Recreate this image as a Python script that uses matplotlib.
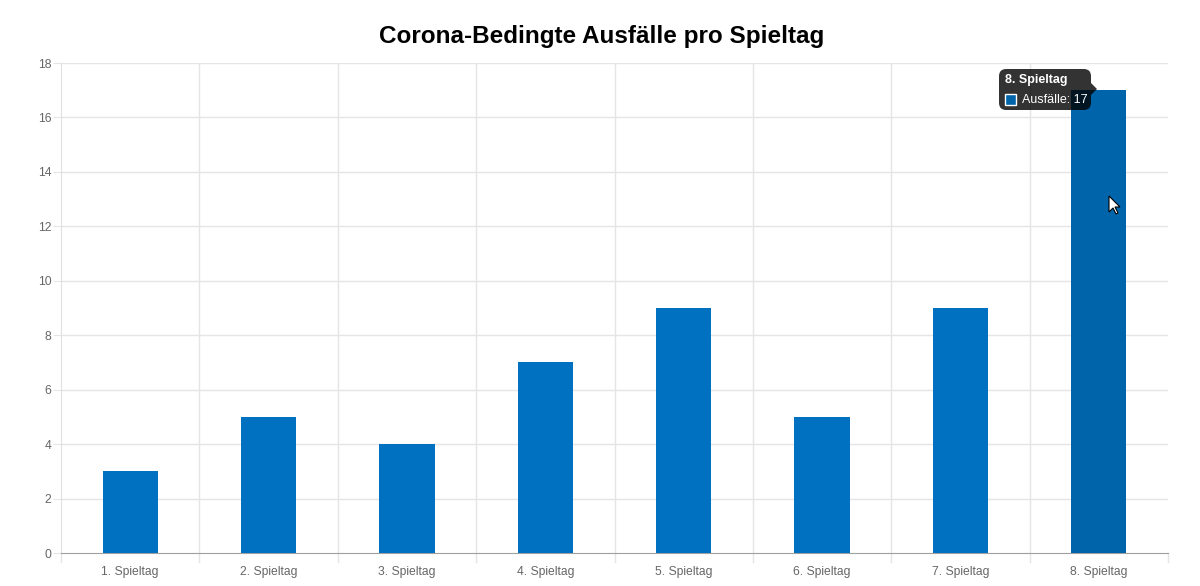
import numpy as np
import matplotlib.pyplot as plt
from matplotlib.patches import FancyBboxPatch, Polygon, Rectangle

plt.rcParams['font.family'] = ['Liberation Sans', 'DejaVu Sans']

spieltage = ["1. Spieltag", "2. Spieltag", "3. Spieltag", "4. Spieltag",
             "5. Spieltag", "6. Spieltag", "7. Spieltag", "8. Spieltag"]
ausfaelle = [3, 5, 4, 7, 9, 5, 9, 17]
hover_idx = 7

bar_color = "#0070c0"
hover_color = "#0064aa"

fig = plt.figure(figsize=(12, 5.86), dpi=100)
ax = fig.add_axes([61 / 1200, 33 / 586, 1107 / 1200, 490 / 586])

x = np.arange(len(spieltage))
colors = [hover_color if i == hover_idx else bar_color for i in range(len(x))]
ax.bar(x, ausfaelle, width=0.4, color=colors, zorder=3)

ax.set_xlim(-0.5, len(x) - 0.5)
ax.set_ylim(0, 18)
ax.set_yticks(range(0, 19, 2))
ax.set_xticks(x)
ax.set_xticklabels(spieltage)

# grid like chart.js: horizontal at ticks, vertical at category borders
for y in range(2, 19, 2):
    ax.axhline(y, color="#e5e5e5", lw=1, zorder=1)
for b in np.arange(0.5, len(x) - 0.5, 1):
    ax.axvline(b, color="#e5e5e5", lw=1, zorder=1)
    ax.plot([b, b], [0, -0.33], color="#e5e5e5", lw=1, clip_on=False)
ax.plot([-0.5, -0.5], [0, -0.33], color="#e5e5e5", lw=1, clip_on=False)
ax.plot([len(x) - 0.5] * 2, [0, -0.33], color="#e5e5e5", lw=1, clip_on=False)

for s in ["top", "right"]:
    ax.spines[s].set_visible(False)
ax.spines["left"].set_color("#e0e0e0")
ax.spines["bottom"].set_color("#a0a0a0")
ax.tick_params(axis="x", length=0, pad=9, labelsize=8.7, labelcolor="#666666")
ax.tick_params(axis="y", length=6, color="#e5e5e5", pad=1, labelsize=8.7,
               labelcolor="#666666")

fig.text(0.501, 0.937, "Corona-Bedingte Ausfälle pro Spieltag", ha="center",
         va="center", fontsize=17.5, fontweight="bold", color="#000000")

# tooltip on hovered bar
tip = FancyBboxPatch((999 / 1200, 1 - 110 / 586), 92 / 1200, 41 / 586,
                     boxstyle="round,pad=0,rounding_size=0.006",
                     transform=fig.transFigure, facecolor=(0, 0, 0, 0.8),
                     edgecolor="none", zorder=10, mutation_aspect=1200 / 586)
fig.add_artist(tip)
fig.add_artist(Polygon([[1091 / 1200, 1 - 83 / 586], [1097 / 1200, 1 - 89 / 586],
                        [1091 / 1200, 1 - 95 / 586]], closed=True,
                       transform=fig.transFigure, facecolor=(0, 0, 0, 0.8),
                       edgecolor="none", zorder=10))
fig.text(1005 / 1200, 1 - 80.5 / 586, spieltage[hover_idx], color="white",
         fontsize=9, fontweight="bold", va="center", ha="left", zorder=11)
fig.add_artist(Rectangle((1005 / 1200, 1 - 105 / 586), 11 / 1200, 11 / 586,
                         transform=fig.transFigure, facecolor=hover_color,
                         edgecolor="white", lw=1, zorder=11))
fig.text(1022 / 1200, 1 - 100 / 586, f"Ausfälle: {ausfaelle[hover_idx]}",
         color="white", fontsize=9, va="center", ha="left", zorder=11)

# mouse pointer
cx, cy = 1109, 196
pts = [(0, 0), (0, 16), (4, 12), (7, 18), (9, 17), (6, 11), (11, 11)]
fig.add_artist(Polygon([[(cx + px) / 1200, 1 - (cy + py) / 586] for px, py in pts],
                       closed=True, transform=fig.transFigure, facecolor="white",
                       edgecolor="black", lw=0.8, zorder=12))

fig.savefig("out.png", dpi=100)
